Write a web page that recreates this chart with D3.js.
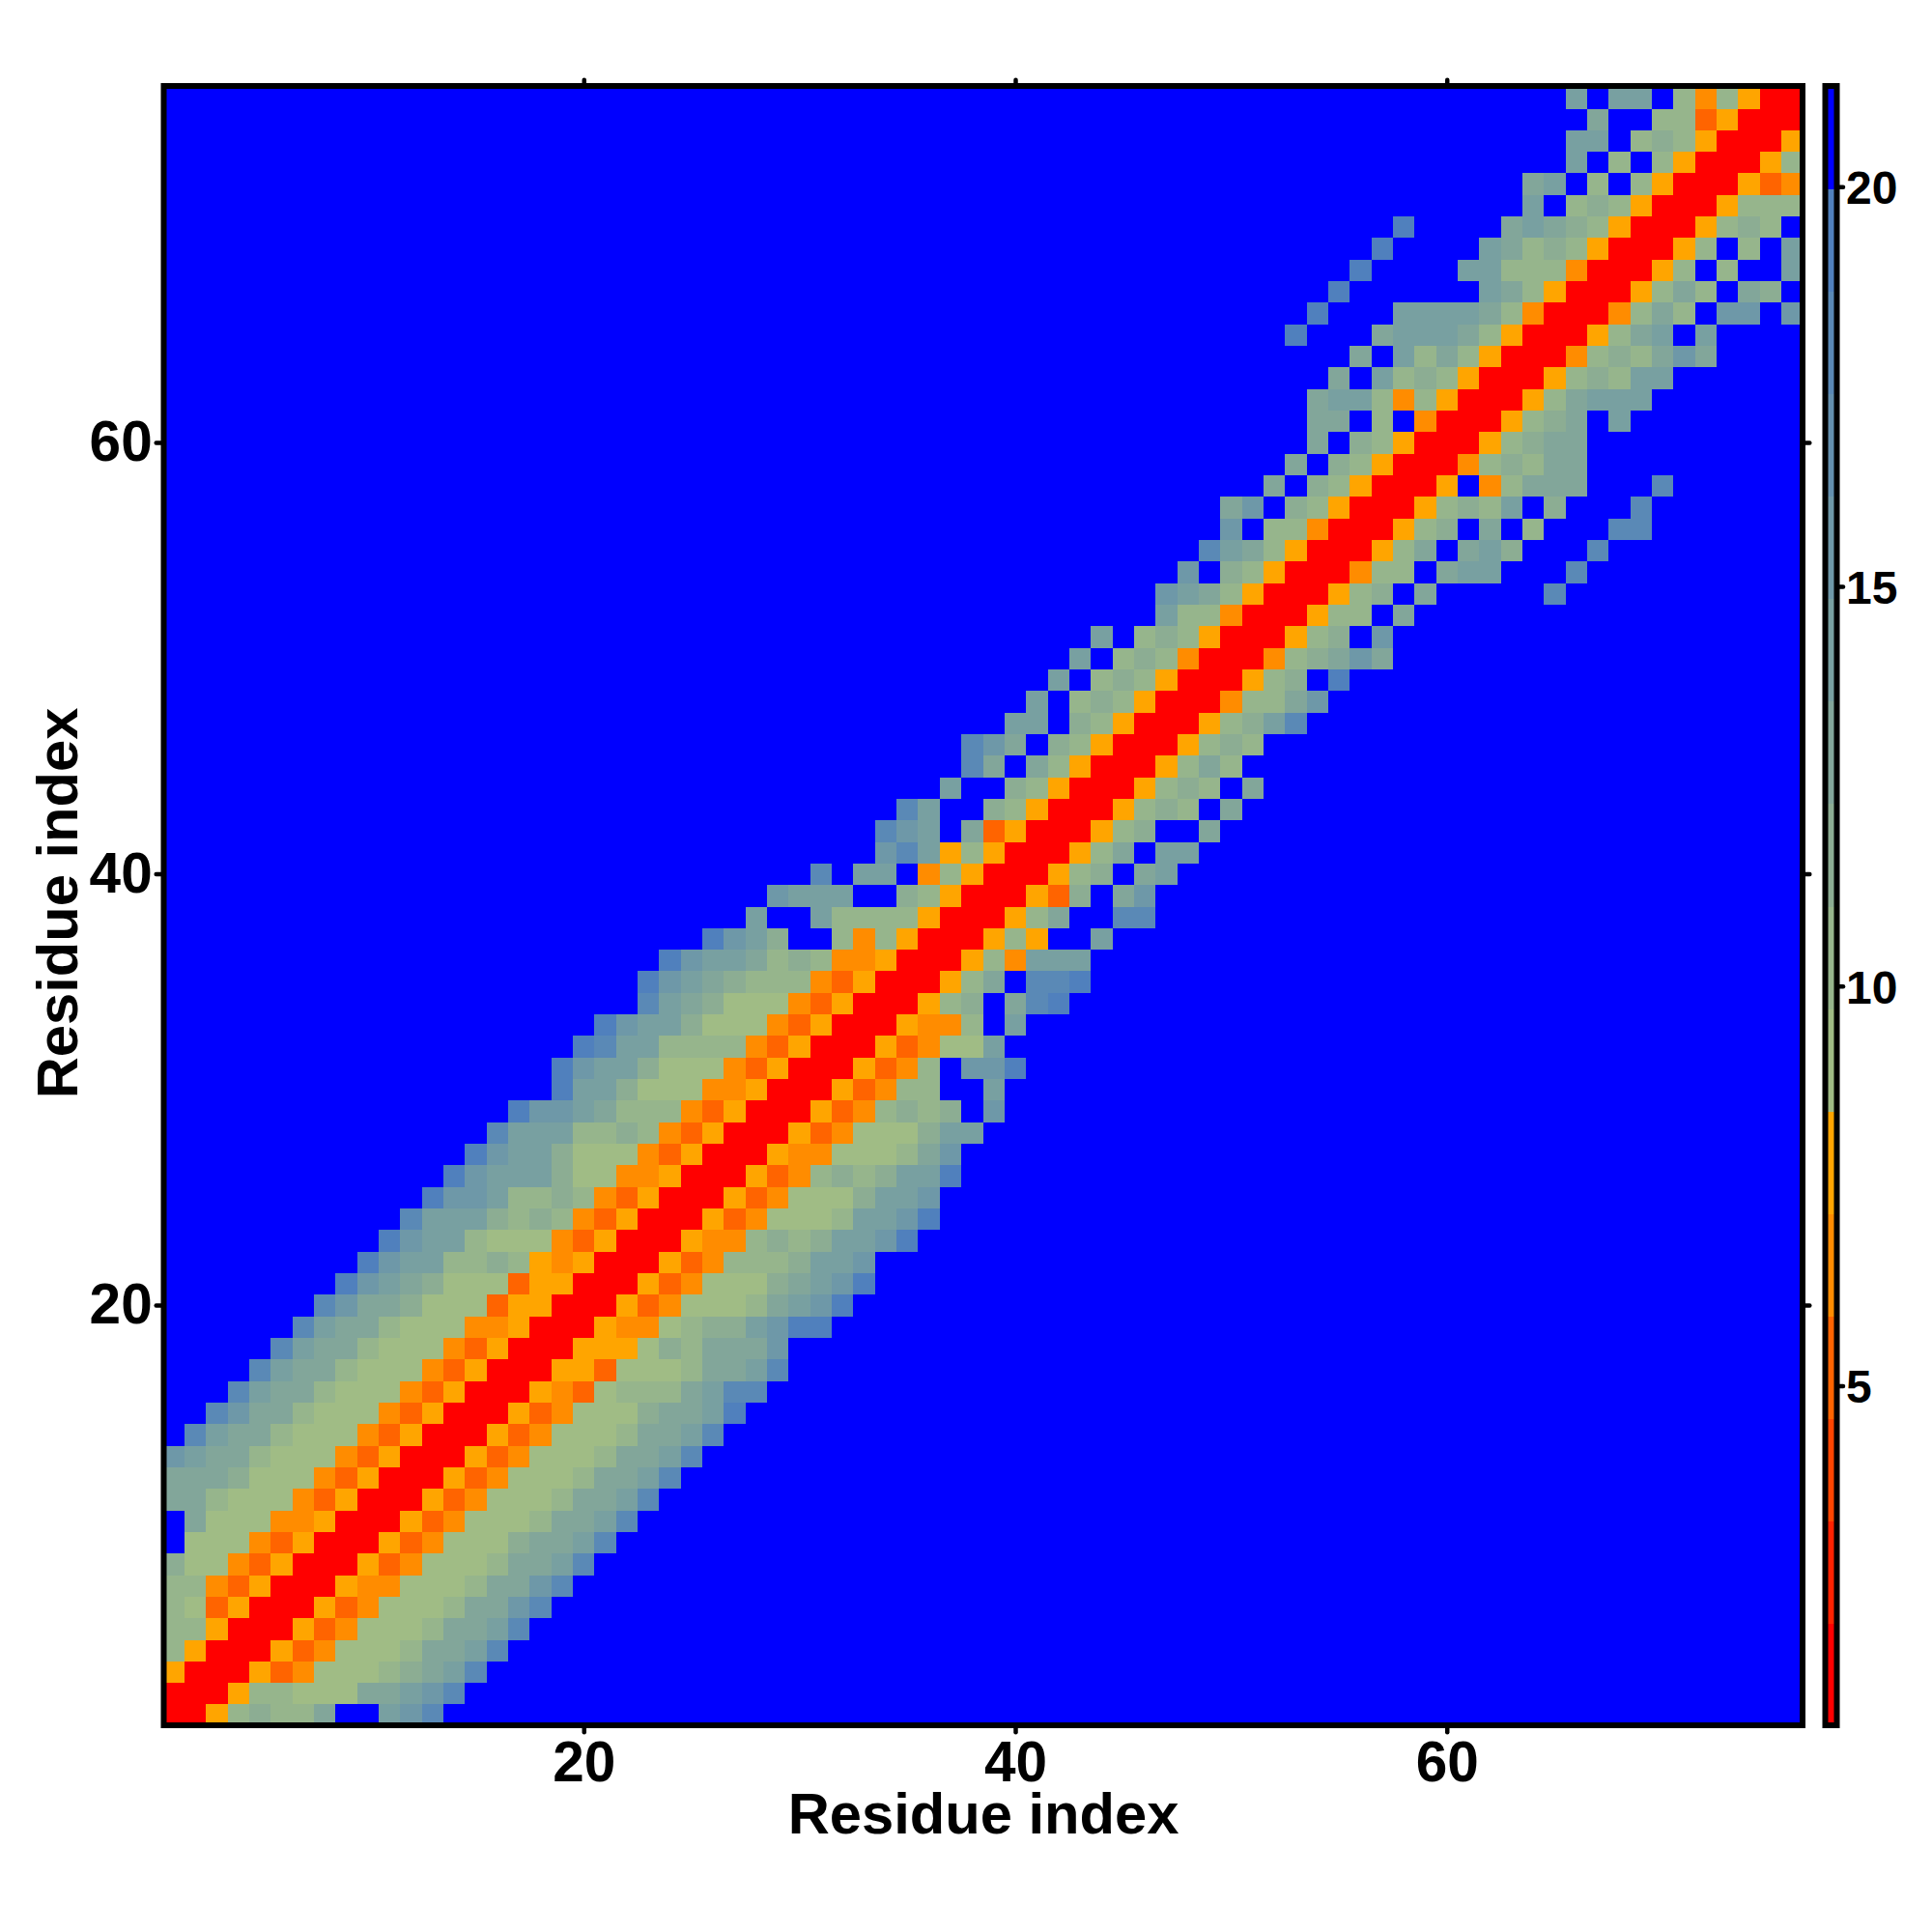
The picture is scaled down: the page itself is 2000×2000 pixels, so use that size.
<!DOCTYPE html>
<html><head><meta charset="utf-8">
<script src="https://cdn.jsdelivr.net/npm/d3@7"></script>
<style>html,body{margin:0;background:#fff}text{font-family:"Liberation Sans",Arial,sans-serif;font-weight:bold;fill:#000}</style>
</head><body><svg id="c" width="2000" height="2000"></svg>
<script>
const residueCount = 76;
const xTicks = [20, 40, 60];
const yTicks = [20, 40, 60];
const barTicks = [5, 10, 15, 20];
const xLabel = "Residue index";
const yLabel = "Residue index";
const zMin = 0.75, zMax = 21.25;
const palette = ["#ff0000","#ff2200","#ff4500","#ff6400","#ff8c00","#ffa500","#a0bc85","#96b58c","#8cad93","#82a69a","#78a0a1","#6e98a8","#6490af","#5a89b6","#5080bd","#0000ff"];
// first coloured column of each row (row 1 = bottom)
const rowStart = [1,1,1,1,1,1,1,1,2,2,1,1,1,2,3,4,5,6,7,8,9,10,11,12,13,14,15,16,17,19,19,20,21,23,23,24,26,28,29,31,34,34,35,37,38,38,40,41,42,43,44,47,47,48,49,50,50,52,53,54,54,54,55,56,53,54,55,56,57,58,64,64,66,66,67,66];
// cell readings from that column on, one hex digit each; anything beyond is the top band
const rowLevels = [
"0057978AFFBCD","000577666AABCD","500053466689ABD","750005346668AABD","87500053466"+"68AABD",
"7635000534666"+"8AACD","87435000544666"+"8AACD","966435000534666"+"8AABD","666435000534666"+"9AABD","A666445000534666"+"8AABD",
"AA8666435000534666"+"8AABD","AAA9666435000534666"+"8AABD","CBAA8666435000534666"+"8AABD","DBAA8666435000534666"+"8AABD","DCAA8666435000534666"+"9AABE",
"DBAA8666435000543"+"6878ABDD","DBAA8666435000553"+"6668AABD","DBAA8666435000555"+"697AAAC","DBAA8666445000544"+"6899BCEE","DCAA9666355000534"+"6668ABCE",
"ECBA9666355000534"+"6669ABCE","ECBB8797545000534"+"7879BBC","ECBB8666435000544"+"7979BBCE","DBBB9798435000534"+"6668BBCE","ECCB8798435000534"+"6669BBC",
"ECBBB966445000534"+"7979BBE","ECBB9666435000544"+"6668AC","DBBB8798435000534"+"6669BB","ECCBA787435000534"+"7979FC","EBB9666445000534"+"78FFB",
"ECBB9666435000534"+"7FCCE","EDBB8787435000534"+"66B","ECBB9666435000544"+"7FB","DBA9666435000"+"589FADE","ECBA9787435000"+"58AFDDE",
"ECBBA797445000"+"584BBB","ECB9FF8485000"+"575FFB","BFFB77885000"+"57AFFDD","CBBBFF985000"+"539FAC","DFBBF475000"+"579FAB",
"CDB585000"+"58AFBB","DCBFA35000"+"589FFA","DBFF975000"+"5897FA","BFF975000"+"5897FA","DAFA85000"+"58A8",
"DCAF985000"+"5897","BBF985000"+"579BD","BF7975000"+"488AC","BF7985000"+"589FE","BF8984000"+"489ACA",
"BF7985000"+"579FC","B884000"+"578FA","CBA85000"+"579FAFFFFFD","CF985000"+"488FABBFFFD","DBA85000"+"58AFAB9FFFD",
"CF884000"+"589FAF8FFFDD","ACF985000"+"5898BF9FFFD","AF985000"+"5F48AAAFFFD","AF985000"+"4898AA","AF985000"+"589AA",
"AAF8F4000"+"589AFB","ABB8485000"+"58ABBB","AFB8985000"+"5898BB","AFB7A85000"+"4898ACA","EFFFABBBA85000"+"58ABFB",
"EFFFBBBBA84000"+"48A8FCCFC","EFFFFFFBA85000"+"58A8FA9","EFFFFBB7884000"+"58F8FFB","EFFFFBA7985000"+"58F8FB","EFFFFABA985000"+"5898F",
"BF7985000"+"5778","ABF8F85000"+"534","BF8F85000"+"57","BBF8985000"+"5","AFF8735000","BFBBF748500"
];
// reading digit -> colour band
const readingBand = [0,1,2,3,4,5,6,7,7,8,9,10,11,13,14,15];

const svg = d3.select("#c");
const x = d3.scaleLinear().domain([0.5, residueCount + 0.5]).range([168.7, 1866.3]);
const y = d3.scaleLinear().domain([0.5, residueCount + 0.5]).range([1786.3, 89.7]);
const bar = d3.scaleLinear().domain([zMin, zMax]).range([1786.3, 89.7]);
const color = d3.scaleQuantize().domain([zMin, zMax]).range(palette);
const band = (zMax - zMin) / palette.length;

const cells = [];
for (let r = 1; r <= residueCount; r++) {
  const s = rowLevels[r - 1], st = rowStart[r - 1];
  for (let c = 1; c <= residueCount; c++) {
    const ch = s[c - st];
    const lvl = (c >= st && ch !== undefined) ? readingBand[parseInt(ch, 16)] : 15;
    cells.push({ r, c, v: zMin + (lvl + 0.5) * band });
  }
}
svg.append("g").attr("shape-rendering", "crispEdges").selectAll("rect").data(cells).join("rect")
  .attr("x", d => x(d.c - 0.5)).attr("y", d => y(d.r + 0.5))
  .attr("width", d => x(d.c + 0.5) - x(d.c - 0.5) + 0.5)
  .attr("height", d => y(d.r - 0.5) - y(d.r + 0.5) + 0.5)
  .attr("fill", d => color(d.v));

function style(g, fs) {
  g.select(".domain").remove();
  g.selectAll(".tick line").attr("stroke", "#000").attr("stroke-width", 4.5).attr("stroke-linecap", "round");
  g.selectAll(".tick text").style("font-size", fs + "px");
}
const T = 7;
svg.append("g").attr("transform", "translate(0,1786.3)")
  .call(d3.axisBottom(x).tickValues(xTicks).tickSize(T).tickPadding(9).tickFormat(d3.format("d")))
  .call(style, 58.5);
svg.append("g").attr("transform", "translate(168.7,0)")
  .call(d3.axisLeft(y).tickValues(yTicks).tickSize(T).tickPadding(4).tickFormat(d3.format("d")))
  .call(style, 58.5);
svg.append("g").attr("transform", "translate(0,89.7)")
  .call(d3.axisTop(x).tickValues(xTicks).tickSize(T).tickFormat(""))
  .call(style, 58.5);
svg.append("g").attr("transform", "translate(1866.3,0)")
  .call(d3.axisRight(y).tickValues(yTicks).tickSize(T).tickFormat(""))
  .call(style, 58.5);
svg.append("rect").attr("x", 169.5).attr("y", 89).attr("width", 1696.5).attr("height", 1697)
  .attr("fill", "none").attr("stroke", "#000").attr("stroke-width", 6);

// colour bar
const bands = palette.map((p, i) => i);
svg.append("g").attr("shape-rendering", "crispEdges").selectAll("rect").data(bands).join("rect")
  .attr("x", 1889.5).attr("width", 12)
  .attr("y", i => bar(zMin + (i + 1) * band))
  .attr("height", i => bar(zMin + i * band) - bar(zMin + (i + 1) * band) + 0.5)
  .attr("fill", i => palette[i]);
svg.append("rect").attr("x", 1889.5).attr("y", 89).attr("width", 12).attr("height", 1697)
  .attr("fill", "none").attr("stroke", "#000").attr("stroke-width", 6);
const barAxis = svg.append("g").attr("transform", "translate(1904,0)")
  .call(d3.axisRight(bar).tickValues(barTicks).tickSize(4).tickPadding(3).tickFormat(d3.format("d")))
  .call(style, 48);
barAxis.selectAll(".tick text").attr("dy", "0.36em");

svg.append("text").attr("x", 1018).attr("y", 1898).attr("text-anchor", "middle").style("font-size", "59.7px").text(xLabel);
svg.append("text").attr("transform", "translate(80,935) rotate(-90)").attr("text-anchor", "middle").style("font-size", "59.7px").text(yLabel);
</script></body></html>
